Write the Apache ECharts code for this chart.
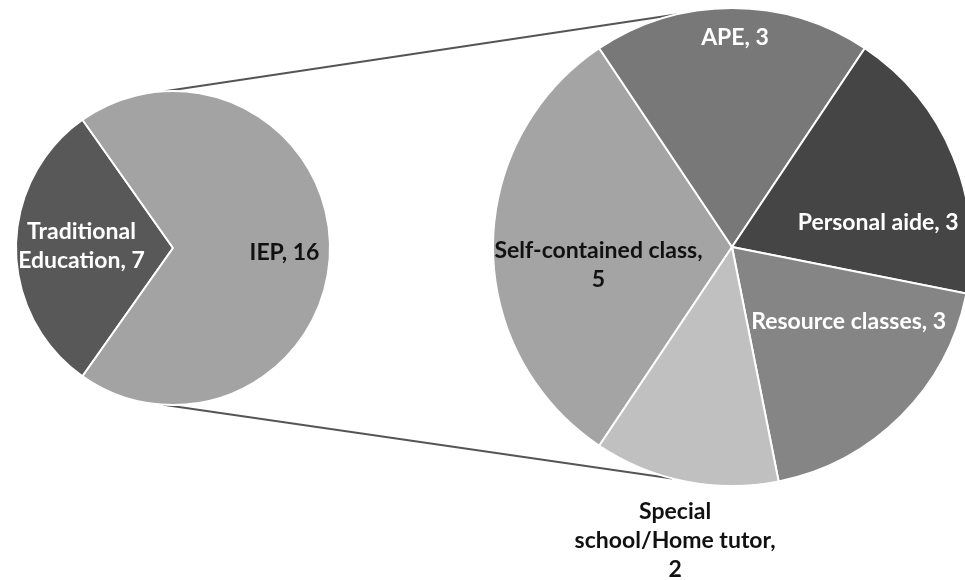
<!DOCTYPE html>
<html>
<head>
<meta charset="utf-8">
<script src="https://cdn.jsdelivr.net/npm/echarts@6/dist/echarts.min.js"></script>
<style>
  html, body { margin: 0; padding: 0; background: #fff; }
  #chart { width: 965px; height: 580px; }
</style>
</head>
<body>
<div id="chart"></div>
<script>
// Primary split: traditional schooling vs. IEP
const mainNames = ['Traditional Education', 'IEP'];
const mainValues = [7, 16];
const mainLabelText = ['Traditional\nEducation,', 'IEP,'];

// Breakdown of the IEP services
const subNames = ['Self-contained class', 'APE', 'Personal aide', 'Resource classes', 'Special school/Home tutor'];
const subValues = [5, 3, 3, 3, 2];
const subLabelText = ['Self-contained class,\n', 'APE, ', 'Personal aide, ', 'Resource classes, ', 'Special\nschool/Home tutor,\n'];

// Styling
const mainColors = ['#585858', '#a3a3a3'];
const subColors = ['#a4a4a4', '#787878', '#454545', '#858585', '#c0c0c0'];
const mainLabelColors = ['#ffffff', '#111111'];
const subLabelColors = ['#111111', '#ffffff', '#ffffff', '#ffffff', '#111111'];
const mainLabelOffsets = [[-10, -2], [30, 5]];
const subLabelOffsets = [[-11, 18], [3, -87], [33, 22], [30, -12], [-33, 173]];

// Pie geometry (px)
const mainCenter = [173, 248], mainRadius = 157;
const subCenter = [732, 247], subRadius = 239;

const sum = a => a.reduce((s, v) => s + v, 0);
// first slice of each pie is centred on the 9 o'clock direction
const mainStart = 180 + 360 * mainValues[0] / sum(mainValues) / 2;
const subStart = 180 + 360 * subValues[0] / sum(subValues) / 2;

const font = 'Lato, "Open Sans", sans-serif';

function items(names, values, colors, texts, labelColors, offsets, sep) {
  return names.map((n, i) => ({
    name: n,
    value: values[i],
    itemStyle: { color: colors[i] },
    label: {
      color: labelColors[i],
      offset: offsets[i],
      formatter: p => texts[i] + sep + p.value
    }
  }));
}

// connector lines between the two pies, anchored on each circle
const connAngles = [[93, 103.5], [-93.5, -104.5]];
function polar(c, r, deg) {
  const a = deg * Math.PI / 180;
  return [c[0] + r * Math.cos(a), c[1] - r * Math.sin(a)];
}
const connectors = connAngles.map(([a1, a2]) => {
  const p1 = polar(mainCenter, mainRadius, a1);
  const p2 = polar(subCenter, subRadius, a2);
  return {
    type: 'line',
    z: 0,
    shape: { x1: p1[0], y1: p1[1], x2: p2[0], y2: p2[1] },
    style: { stroke: '#555555', lineWidth: 2 }
  };
});

const baseSeries = {
  type: 'pie',
  clockwise: true,
  avoidLabelOverlap: false,
  animation: false,
  silent: true,
  itemStyle: { borderColor: '#ffffff', borderWidth: 2 },
  label: {
    show: true,
    position: 'inside',
    fontFamily: font,
    fontWeight: 'bold',
    fontSize: 23,
    lineHeight: 29,
    align: 'center'
  },
  labelLine: { show: false },
  emphasis: { disabled: true }
};

const chart = echarts.init(document.getElementById('chart'), null, { renderer: 'canvas' });
chart.setOption({
  backgroundColor: '#ffffff',
  graphic: connectors,
  series: [
    Object.assign({}, baseSeries, {
      name: 'main',
      center: mainCenter,
      radius: mainRadius,
      startAngle: mainStart,
      data: items(mainNames, mainValues, mainColors, mainLabelText, mainLabelColors, mainLabelOffsets, ' ')
    }),
    Object.assign({}, baseSeries, {
      name: 'sub',
      center: subCenter,
      radius: subRadius,
      startAngle: subStart,
      data: items(subNames, subValues, subColors, subLabelText, subLabelColors, subLabelOffsets, '')
    })
  ]
});
</script>
</body>
</html>
